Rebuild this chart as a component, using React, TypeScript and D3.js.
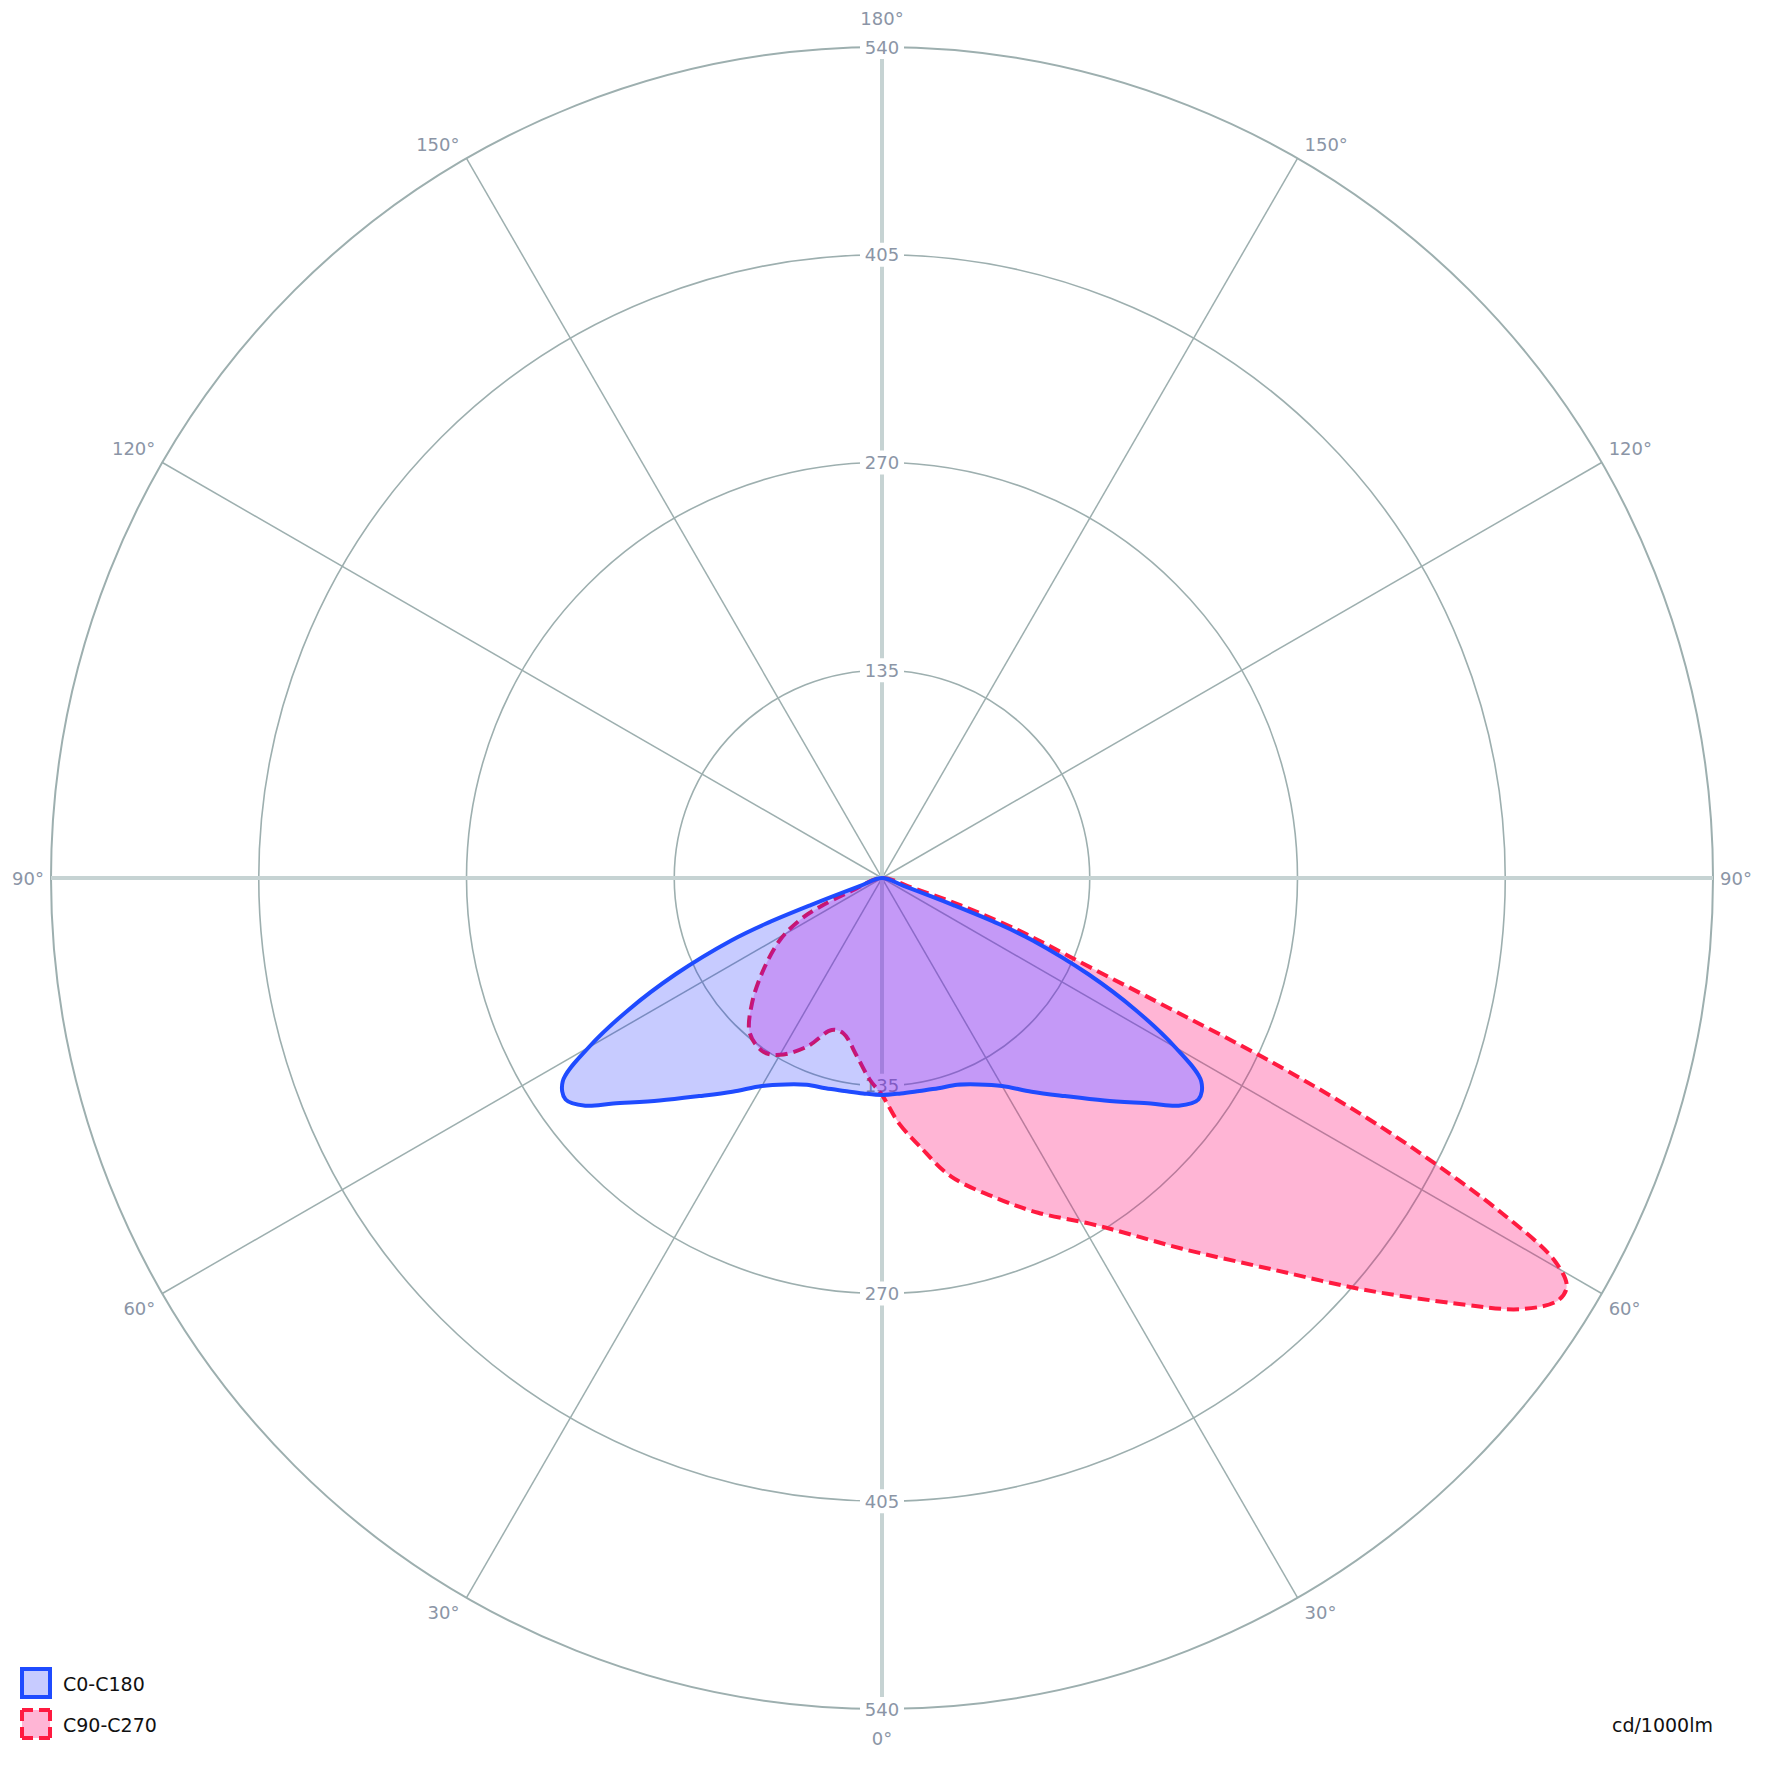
import React from 'react';
import * as d3 from 'd3';

const W = 1773;
const H = 1772;
const CX = 882;
const CY = 878;
const R = 831;

const maxValue = 540;
const radialTicks = [135, 270, 405, 540];
const spokeAngles = [30, 60, 120, 150];
const angleTicks = [0, 30, 60, 90, 120, 150, 180];
const angleLabels = ['0°', '30°', '60°', '90°', '120°', '150°', '180°'];
const seriesNames = ['C0-C180', 'C90-C270'];
const unitLabel = 'cd/1000lm';

// C0 (right half of C0-C180 plane), gamma in degrees, values in cd/1000lm
const c0Gamma = [0, 5, 10, 15, 20, 25, 30, 35, 40, 45, 50, 52.5, 55, 57.5, 60, 62.5, 65, 67.5, 68.5, 69.2, 70, 71];
const c0Values = [141, 140.5, 140.5, 141.5, 143, 148, 156, 169.5, 185, 204.5, 228, 243, 251, 246, 220, 186, 148, 106, 82, 50, 15, 0];
// C180 (left half)
const c180Gamma = [0, 5, 10, 15, 20, 25, 30, 35, 40, 45, 50, 52.5, 55, 57.5, 60, 62.5, 65, 67.5, 68.5, 69.2, 70, 71];
const c180Values = [141, 140.5, 140.5, 141.5, 143, 148, 156, 169.5, 185, 204.5, 228, 243, 251, 246, 220, 186, 148, 106, 82, 50, 15, 0];
// C90 (right half of C90-C270 plane)
const c90Gamma = [0, 4, 8, 13, 20, 25, 31, 35, 39, 45, 49.5, 53.5, 56, 58, 59.2, 60.4, 61.6, 62.7, 63.7, 64.7, 65.7, 66.7, 68, 69, 70.2, 71.2, 72.5, 74];
const c90Values = [141, 160, 176, 199, 222, 240, 262, 283, 310, 360, 412, 465, 501, 518, 518, 502, 458, 404, 350, 281, 200, 150, 115, 95, 68, 45, 18, 0];
// C270 (left half)
const c270Gamma = [0, 3.4, 8, 14, 18.3, 24, 30, 34.3, 40.4, 46, 52.2, 58.7, 62.9, 65.2, 66.8, 68.5];
const c270Values = [141, 131.5, 117, 104, 104, 120, 132.7, 136.7, 132.5, 117.5, 97.6, 77.6, 60, 44, 22.6, 0];

const FONT = '"DejaVu Sans", Verdana, sans-serif';
const GRID = '#9dafaf';
const AXIS = '#c6d3d3';
const LABEL = '#8b95a6';

const rad = Math.PI / 180;
const rScale = d3.scaleLinear().domain([0, maxValue]).range([0, R]);

type P = { a: number; v: number };

function buildLoop(rg: number[], rv: number[], lg: number[], lv: number[]): P[] {
  const pts: P[] = [];
  rg.forEach((g, i) => {
    if (rv[i] > 0) pts.push({ a: Math.PI - g * rad, v: rv[i] });
  });
  pts.push({ a: Math.PI / 2, v: 0 });
  for (let i = lg.length - 1; i >= 1; i--) {
    if (lv[i] > 0) pts.push({ a: Math.PI + lg[i] * rad, v: lv[i] });
  }
  return pts;
}

const lineGen = d3
  .lineRadial<P>()
  .angle((d) => d.a)
  .radius((d) => rScale(d.v))
  .curve(d3.curveCatmullRomClosed.alpha(0.5));

export default function App() {
  const bluePath = lineGen(buildLoop(c0Gamma, c0Values, c180Gamma, c180Values)) || '';
  const redPath = lineGen(buildLoop(c90Gamma, c90Values, c270Gamma, c270Values)) || '';
  const T = `translate(${CX},${CY})`;

  const angleLabelEls: React.ReactNode[] = [];
  angleTicks.forEach((g, i) => {
    const sides = g === 0 || g === 180 ? [0] : [1, -1];
    sides.forEach((s) => {
      const ex = CX + s * R * Math.sin(g * rad);
      const ey = CY + R * Math.cos(g * rad);
      let x = ex;
      let y = ey;
      let anchor: 'start' | 'middle' | 'end' = 'middle';
      if (s === 0) {
        y = g === 0 ? ey + 29 : ey - 29;
      } else if (g === 90) {
        x = ex + s * 7;
        anchor = s > 0 ? 'start' : 'end';
      } else {
        x = ex + s * 7;
        y = ey + (Math.cos(g * rad) > 0 ? 15 : -14);
        anchor = s > 0 ? 'start' : 'end';
      }
      angleLabelEls.push(
        <text key={`al-${g}-${s}`} x={x} y={y} textAnchor={anchor} dominantBaseline="central" fill={LABEL} fontSize={18} fontFamily={FONT}>
          {angleLabels[i]}
        </text>
      );
    });
  });

  return (
    <svg width={W} height={H} style={{ position: 'absolute', left: 0, top: 0, background: '#fff' }}>
      <rect x={0} y={0} width={W} height={H} fill="#fff" />
      <defs>
        <clipPath id="blueClip" clipPathUnits="userSpaceOnUse">
          <path d={bluePath} transform={T} />
        </clipPath>
        <mask id="notBlue" maskUnits="userSpaceOnUse" x={0} y={0} width={W} height={H}>
          <rect x={0} y={0} width={W} height={H} fill="#fff" />
          <path d={bluePath} transform={T} fill="#000" />
        </mask>
      </defs>
      {/* grid */}
      <g>
        {radialTicks.map((t) => (
          <circle key={`c-${t}`} cx={CX} cy={CY} r={rScale(t)} fill="none" stroke={GRID} strokeWidth={t === maxValue ? 2 : 1.6} />
        ))}
        {spokeAngles.map((g) =>
          [1, -1].map((s) => (
            <line
              key={`s-${g}-${s}`}
              x1={CX}
              y1={CY}
              x2={CX + s * R * Math.sin(g * rad)}
              y2={CY + R * Math.cos(g * rad)}
              stroke={GRID}
              strokeWidth={1.5}
            />
          ))
        )}
        <line x1={CX - R} y1={CY} x2={CX + R} y2={CY} stroke={AXIS} strokeWidth={4} />
        <line x1={CX} y1={CY - R} x2={CX} y2={CY + R} stroke={AXIS} strokeWidth={4} />
      </g>
      {/* radial value labels */}
      <g>
        {radialTicks.map((t) =>
          [-1, 1].map((s) => {
            const y = CY + s * rScale(t);
            return (
              <g key={`vl-${t}-${s}`}>
                <rect x={CX - 22} y={y - 12} width={44} height={24} fill="#fff" />
                <text x={CX} y={y} textAnchor="middle" dominantBaseline="central" fill={LABEL} fontSize={18} fontFamily={FONT}>
                  {t}
                </text>
              </g>
            );
          })
        )}
      </g>
      {angleLabelEls}
      {/* data */}
      <g mask="url(#notBlue)">
        <path d={redPath} transform={T} fill="rgba(255,0,110,0.29)" stroke="none" />
      </g>
      <path d={redPath} transform={T} fill="none" stroke="#ff1a40" strokeWidth={4} strokeDasharray="12 6" strokeLinejoin="round" />
      <path d={bluePath} transform={T} fill="rgba(0,20,255,0.22)" stroke="none" />
      <g clipPath="url(#blueClip)">
        <path d={redPath} transform={T} fill="rgba(190,10,225,0.26)" stroke="none" />
      </g>
      <path d={bluePath} transform={T} fill="none" stroke="#1f4bff" strokeWidth={4} strokeLinejoin="round" />
      {/* legend */}
      <g>
        <rect x={22} y={1669} width={28} height={28} fill="rgba(0,20,255,0.22)" stroke="#1f4bff" strokeWidth={4} />
        <text x={63} y={1684} dominantBaseline="central" fontSize={19} fontFamily={FONT} fill="#111">
          {seriesNames[0]}
        </text>
        <rect x={22} y={1710} width={28} height={28} fill="rgba(255,0,110,0.29)" stroke="#ff1a40" strokeWidth={4} strokeDasharray="11 6 11 0" />
        <text x={63} y={1725} dominantBaseline="central" fontSize={19} fontFamily={FONT} fill="#111">
          {seriesNames[1]}
        </text>
        <text x={1713} y={1725} textAnchor="end" dominantBaseline="central" fontSize={19} fontFamily={FONT} fill="#111">
          {unitLabel}
        </text>
      </g>
    </svg>
  );
}
